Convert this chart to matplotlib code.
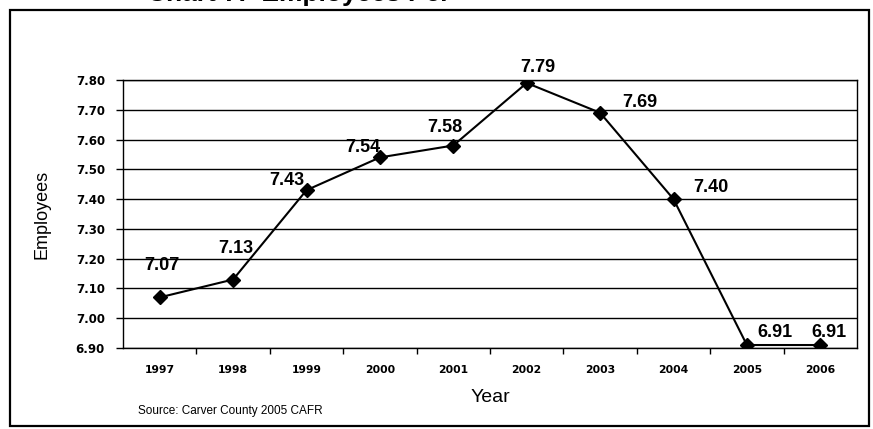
import matplotlib.pyplot as plt
from matplotlib.patches import Rectangle

years = ['1997', '1998', '1999', '2000', '2001', '2002', '2003', '2004', '2005', '2006']
employees = [7.07, 7.13, 7.43, 7.54, 7.58, 7.79, 7.69, 7.40, 6.91, 6.91]
y_ticks = [6.90, 7.00, 7.10, 7.20, 7.30, 7.40, 7.50, 7.60, 7.70, 7.80]

# where each value label sits relative to its marker, in pixels
label_offsets = [(2, 32), (3, 31), (-20, 10), (-17, 10), (-8, 18),
                 (11, 15), (40, 10), (37, 12), (28, 13), (9, 13)]

W, H = 873, 429
fig = plt.figure(figsize=(W / 100, H / 100), dpi=100)

# outer frame round the whole chart
fig.patches.append(Rectangle((10 / W, 3 / H), 859 / W, 416 / H, transform=fig.transFigure,
                             fill=False, edgecolor='black', linewidth=1.6))

# title, cut off by the page edge
fig.text(147 / W, 1 - 6 / H, 'Chart 7:  Employees Per', ha='left', va='bottom',
         fontsize=19, fontweight='bold', family='Liberation Sans')

ax = fig.add_axes([123 / W, 1 - 348 / H, 734 / W, 268 / H])
x = list(range(len(years)))
ax.plot(x, employees, color='black', linewidth=1.5, marker='D', markersize=7, zorder=3)

for xi, v, (dx, dy) in zip(x, employees, label_offsets):
    ax.annotate('%.2f' % v, (xi, v), xytext=(dx, dy), textcoords='offset pixels',
                ha='center', va='center', fontsize=13, fontweight='bold',
                family='Liberation Sans', zorder=4)

ax.set_xlim(-0.5, len(years) - 0.5)
ax.set_ylim(6.90, 7.80)
ax.set_yticks(y_ticks)
ax.set_yticklabels(['%.2f' % t for t in y_ticks], fontsize=8.5, fontweight='bold')
ax.set_xticks(x)
ax.set_xticklabels(years, fontsize=7.8, fontweight='bold')
ax.set_xticks([i + 0.5 for i in x[:-1]], minor=True)
ax.tick_params(axis='x', which='major', length=0, pad=12)
ax.tick_params(axis='x', which='minor', length=4, width=1, direction='out')
ax.tick_params(axis='y', length=5, width=1, direction='out', pad=8)
ax.grid(axis='y', color='black', linewidth=1)
for s in ax.spines.values():
    s.set_linewidth(1)

fig.text(42 / W, 1 - 214 / H, 'Employees', rotation=90, ha='center', va='center',
         fontsize=13, family='Liberation Sans')
fig.text(490 / W, 1 - 397 / H, 'Year', ha='center', va='center',
         fontsize=14, family='Liberation Sans')
fig.text(138 / W, 1 - 411 / H, 'Source: Carver County 2005 CAFR', ha='left', va='center',
         fontsize=8.5, family='Liberation Sans')

fig.savefig('out.png', dpi=100)
